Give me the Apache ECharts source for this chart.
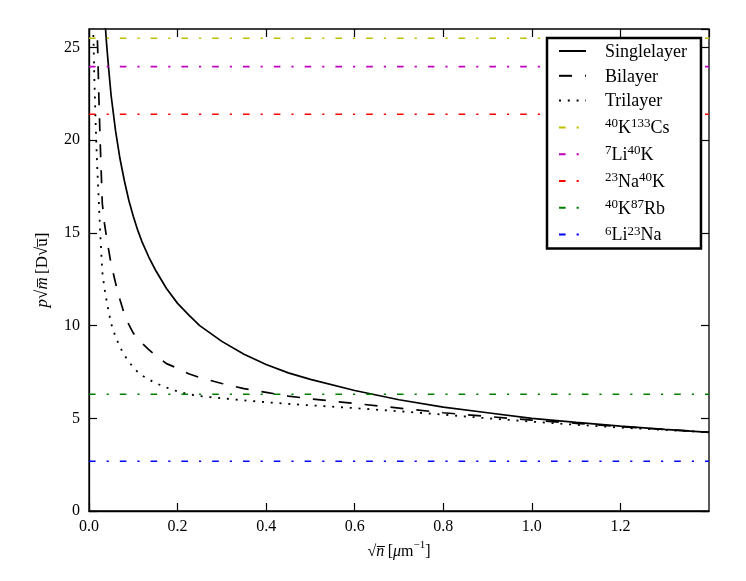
<!DOCTYPE html>
<html>
<head>
	<meta charset="utf-8">
	<script src="https://cdn.jsdelivr.net/npm/echarts@6/dist/echarts.min.js"></script>
	<style>body{margin:0;background:#fff;}</style>
</head>
<body>
	<div id="main" style="width:746px;height:581px;"></div>
</body>
<script type="text/javascript">
// sqrt(n) sample points, shared by the three curves
var sqrtN = [0.008, 0.01, 0.012, 0.015, 0.018, 0.02, 0.022, 0.025, 0.028, 0.03, 0.035, 0.04, 0.045, 0.05, 0.06,
	0.07, 0.08, 0.09, 0.1, 0.11, 0.12, 0.135, 0.15, 0.175, 0.2, 0.225, 0.25, 0.3, 0.35, 0.4, 0.45, 0.5,
	0.6, 0.7, 0.8, 0.9, 1.0, 1.1, 1.2, 1.3, 1.4];
var singlelayer = [null, null, null, null, null, null, null, null, null, 29.0, 26.8, 25.1, 23.7, 22.4, 20.5,
	19.0, 17.8, 16.75, 15.9, 15.15, 14.5, 13.7, 13.0, 12.0, 11.2, 10.58, 10.0, 9.15, 8.45, 7.9, 7.45, 7.1,
	6.5, 6.0, 5.6, 5.3, 5.0, 4.78, 4.58, 4.4, 4.24];
var bilayer = [null, null, null, 31.0, 26.2, 24.6, 22.6, 20.1, 18.0, 16.6, 15.5, 14.7, 14.0, 13.3, 12.3,
	11.4, 10.6, 10.05, 9.6, 9.3, 9.05, 8.7, 8.4, 7.95, 7.7, 7.4, 7.2, 6.88, 6.6, 6.4, 6.2, 6.05,
	5.8, 5.55, 5.3, 5.1, 4.9, 4.73, 4.55, 4.4, 4.25];
var trilayer = [29.0, 25.6, 23.4, 20.9, 18.9, 17.8, 16.8, 15.2, 13.8, 12.9, 12.0, 11.3, 10.7, 10.1, 9.4,
	8.84, 8.4, 8.05, 7.75, 7.5, 7.3, 7.1, 6.9, 6.66, 6.45, 6.3, 6.2, 6.08, 5.97, 5.87, 5.78, 5.7,
	5.55, 5.38, 5.2, 5.0, 4.82, 4.65, 4.5, 4.37, 4.25];

// molecules (horizontal reference lines)
var molecules = ['40K133Cs', '7Li40K', '23Na40K', '40K87Rb', '6Li23Na'];
var moleculeLabels = ['{s|40}{n|K}{s|133}{n|Cs}', '{s|7}{n|Li}{s|40}{n|K}', '{s|23}{n|Na}{s|40}{n|K}',
	'{s|40}{n|K}{s|87}{n|Rb}', '{s|6}{n|Li}{s|23}{n|Na}'];
var moleculeValues = [25.5, 23.97, 21.4, 6.3, 2.68];
var moleculeColors = ['#bfbf00', '#bf00bf', '#ff0000', '#008000', '#0000ff'];

var xMin = 0, xMax = 1.4, yMin = 0, yMax = 26;
var serif = 'Liberation Serif';

function pairs(ys){
	var out = [];
	for(var i=0;i<sqrtN.length;i++){
		out.push([sqrtN[i], ys[i] == null ? '-' : ys[i]]);
	}
	return out;
}

var series = [
	{name:'Singlelayer', type:'line', data:pairs(singlelayer), showSymbol:false, symbol:'none',
		lineStyle:{color:'#000', width:1.7, type:'solid'}, itemStyle:{color:'#000'}},
	{name:'Bilayer', type:'line', data:pairs(bilayer), showSymbol:false, symbol:'none',
		lineStyle:{color:'#000', width:1.7, type:[13,13]}, itemStyle:{color:'#000'}},
	{name:'Trilayer', type:'line', data:pairs(trilayer), showSymbol:false, symbol:'none',
		lineStyle:{color:'#000', width:1.8, type:[2,6.8]}, itemStyle:{color:'#000'}}
];
for(var k=0;k<molecules.length;k++){
	series.push({
		name: molecules[k], type:'line', showSymbol:false, symbol:'none',
		data: [[xMin, moleculeValues[k]], [xMax, moleculeValues[k]]],
		lineStyle:{color:moleculeColors[k], width:1.6, type:[6.6,11,2.2,11]},
		itemStyle:{color:moleculeColors[k]}
	});
}

var legendLabel = {'Singlelayer':'{n|Singlelayer}', 'Bilayer':'{n|Bilayer}', 'Trilayer':'{n|Trilayer}'};
for(var k=0;k<molecules.length;k++) legendLabel[molecules[k]] = moleculeLabels[k];

var tickStyle = {show:true, inside:true, length:8, lineStyle:{color:'#000', width:1.2}};
var option = {
	animation:false,
	backgroundColor:'#fff',
	grid:{left:89, right:37, top:29, bottom:70, show:true, borderColor:'#000', borderWidth:1.3, backgroundColor:'transparent'},
	legend:{
		orient:'vertical', left:547, top:38,
		data:['Singlelayer','Bilayer','Trilayer'].concat(molecules),
		backgroundColor:'#fff', borderColor:'#000', borderWidth:2.5, borderRadius:0,
		padding:[5,14,4,11], itemGap:6.8, itemWidth:27, itemHeight:20,
		itemStyle:{opacity:0},
		formatter:function(name){ return legendLabel[name]; },
		textStyle:{
			padding:[0,0,0,14],
			rich:{
				n:{fontFamily:serif, fontSize:18, color:'#000', lineHeight:20, verticalAlign:'bottom'},
				s:{fontFamily:serif, fontSize:13, color:'#000', lineHeight:20, verticalAlign:'top', padding:[0,0,5,0]}
			}
		}
	},
	xAxis:[{
		type:'value', min:xMin, max:xMax, interval:0.2, position:'bottom',
		name:'{n|√}{i|n\u0305} {n|[}{i|μ}{n|m}{s|−1}{n|]}', nameLocation:'middle', nameGap:26,
		nameTextStyle:{rich:{
			n:{fontFamily:serif, fontSize:16, color:'#000', lineHeight:20, verticalAlign:'bottom'},
			i:{fontFamily:serif, fontStyle:'italic', fontSize:16, color:'#000', lineHeight:20, verticalAlign:'bottom'},
			s:{fontFamily:serif, fontSize:11, color:'#000', lineHeight:20, verticalAlign:'top', padding:[0,0,5,0]}
		}},
		axisLine:{show:true, onZero:false, lineStyle:{color:'#000', width:1.3}},
		axisTick:tickStyle,
		axisLabel:{showMaxLabel:false, margin:8, fontFamily:serif, fontSize:16, color:'#000',
			formatter:function(v){ return v.toFixed(1); }},
		splitLine:{show:false}
	},{
		type:'value', min:xMin, max:xMax, interval:0.2, position:'top',
		axisLine:{show:false, onZero:false}, axisLabel:{show:false}, splitLine:{show:false},
		axisTick:tickStyle
	}],
	yAxis:[{
		type:'value', min:yMin, max:yMax, interval:5, position:'left',
		name:'{i|p}{n|√}{i|m\u0305} {n|[D√u\u0305]}', nameLocation:'middle', nameGap:38, nameRotate:90,
		nameTextStyle:{rich:{
			n:{fontFamily:serif, fontSize:17, color:'#000'},
			i:{fontFamily:serif, fontStyle:'italic', fontSize:17, color:'#000'}
		}},
		axisLine:{show:true, onZero:false, lineStyle:{color:'#000', width:1.3}},
		axisTick:tickStyle,
		axisLabel:{showMaxLabel:false, margin:9, fontFamily:serif, fontSize:16, color:'#000'},
		splitLine:{show:false}
	},{
		type:'value', min:yMin, max:yMax, interval:5, position:'right',
		axisLine:{show:false, onZero:false}, axisLabel:{show:false}, splitLine:{show:false},
		axisTick:tickStyle
	}],
	series:series
};

var myChart = echarts.init(document.getElementById('main'));
myChart.setOption(option);
</script>
</html>
